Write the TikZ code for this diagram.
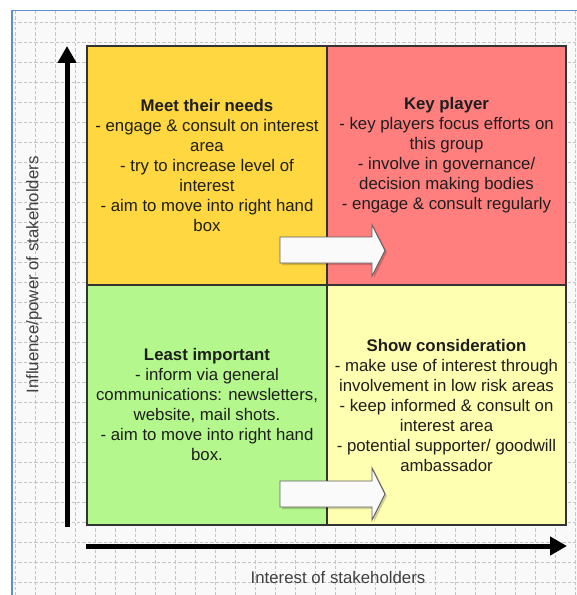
\documentclass[tikz,border=0pt]{standalone}
\usepackage{fontspec}
\setmainfont{Liberation Sans}
\usetikzlibrary{arrows.meta}
\definecolor{bgc}{HTML}{F9F9F9}
\definecolor{gridc}{HTML}{C4C4C4}
\definecolor{framec}{HTML}{5E8FD0}
\definecolor{needc}{HTML}{FFD740}
\definecolor{keyc}{HTML}{FF7F7F}
\definecolor{leastc}{HTML}{B4F78C}
\definecolor{showc}{HTML}{FFFFB2}
\definecolor{edgec}{HTML}{333333}
\definecolor{txtc}{HTML}{1E1E1E}
\definecolor{blkc}{HTML}{FAFAFA}
\tikzset{
  quad/.style={draw=edgec, line width=1.1pt},
  qtext/.style={align=center, text=txtc, inner sep=0pt, font=\fontsize{12.6}{15}\selectfont},
  axislbl/.style={text=txtc!85, inner sep=0pt, font=\fontsize{12.6}{15}\selectfont},
  axis/.style={line width=3.75pt, -{Triangle[width=13.5pt,length=12.75pt]}},
  blockarrow/.style={fill=blkc, draw=gray!75!black, line width=0.7pt, line join=miter},
  blockshadow/.style={fill=black, opacity=0.18},
  gridline/.style={draw=gridc, line width=0.6pt, dash pattern=on 2.5pt off 1.5pt}
}
\begin{document}
\begin{tikzpicture}[x=0.75pt, y=-0.75pt]
\useasboundingbox (0,0) rectangle (577,595);
% background and frame
\fill[white] (0,0) rectangle (577,595);
\fill[bgc] (12,10) rectangle (577,595);
\foreach \gx in {15,35,...,575} { \draw[gridline] (\gx,11) -- (\gx,595); }
\foreach \gy in {22,42,...,582} { \draw[gridline] (13,\gy) -- (577,\gy); }
\draw[framec, line width=1.3pt] (12,595) -- (12,10.5) -- (577,10.5);
% quadrants
\fill[needc]  (87,46) rectangle (327,285);
\fill[keyc]   (327,46) rectangle (566,285);
\fill[leastc] (87,285) rectangle (327,525);
\fill[showc]  (327,285) rectangle (566,525);
\draw[quad] (87,46) rectangle (566,525);
\draw[quad] (327,46) -- (327,525);
\draw[quad] (87,285) -- (566,285);
% texts
\node[qtext] (needs) at (207,165) {\textbf{Meet their needs}\\- engage \& consult on interest\\area\\- try to increase level of\\interest\\- aim to move into right hand\\box};
\node[qtext] (key) at (446.5,155.5) {\textbf{Key player}\\- key players focus efforts on\\this group\\- involve in governance/\\decision making bodies\\- engage \& consult regularly};
\node[qtext] (least) at (207,404.5) {\textbf{Least important}\\- inform via general\\communications: newsletters,\\website, mail shots.\\- aim to move into right hand\\box.};
\node[qtext] (show) at (446.5,405) {\textbf{Show consideration}\\- make use of interest through\\involvement in low risk areas\\- keep informed \& consult on\\interest area\\- potential supporter/ goodwill\\ambassador};
% block arrows
\fill[blockshadow] (282,239) -- (374,239) -- (374,227) -- (387,252) -- (374,278) -- (374,265) -- (282,265) -- cycle;
\draw[blockarrow] (280,237) -- (372,237) -- (372,225) -- (385,250.5) -- (372,276) -- (372,263) -- (280,263) -- cycle;
\fill[blockshadow] (282,483) -- (374,483) -- (374,470) -- (387,496) -- (374,522) -- (374,509) -- (282,509) -- cycle;
\draw[blockarrow] (280,481) -- (372,481) -- (372,468) -- (385,494) -- (372,520) -- (372,507) -- (280,507) -- cycle;
% axes
\coordinate (ybot) at (67,527);
\coordinate (ytop) at (67,46);
\coordinate (xleft) at (86,546);
\coordinate (xright) at (567,546);
\draw[axis] (ybot) -- (ytop);
\draw[axis] (xleft) -- (xright);
\node[axislbl, rotate=90] (ylab) at (34,275) {Influence/power of stakeholders};
\node[axislbl] (xlab) at (338,577) {Interest of stakeholders};
\end{tikzpicture}
\end{document}
